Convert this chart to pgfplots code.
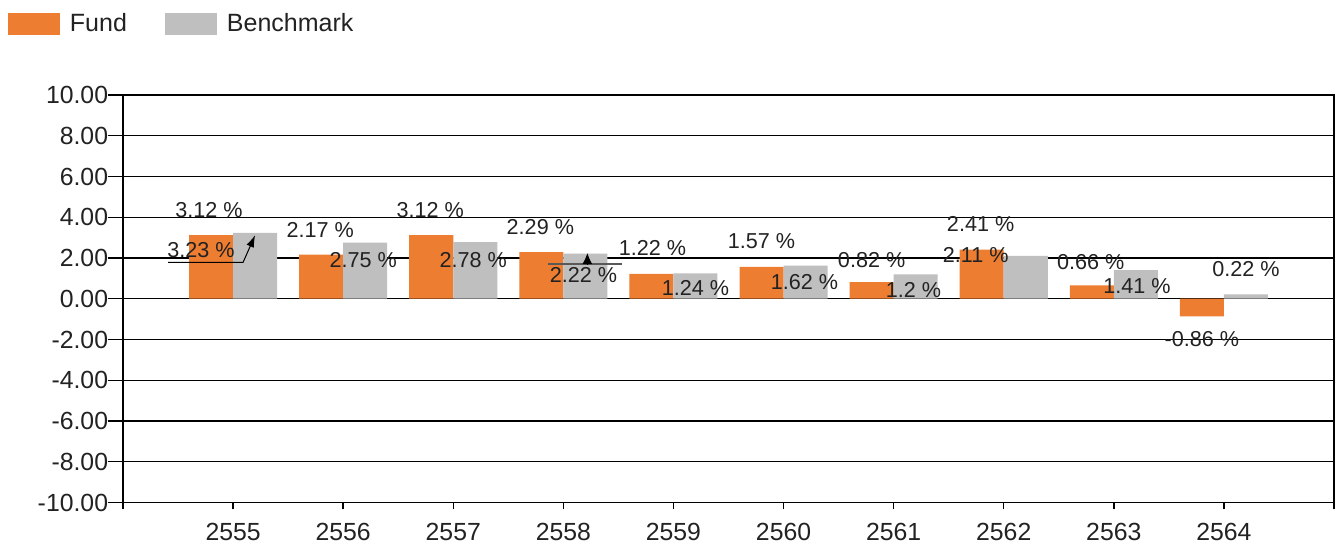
\documentclass[border=0pt]{standalone}
\usepackage{fontspec}
\setmainfont{Liberation Sans}
\usepackage{pgfplots}
\pgfplotsset{compat=1.18}
\usetikzlibrary{arrows.meta,calc}
\definecolor{fundor}{RGB}{237,125,49}
\definecolor{benchgr}{RGB}{191,191,191}
\definecolor{lbl}{RGB}{34,34,34}
\tikzset{lab/.style={font=\fontsize{10.8}{12}\selectfont, text=lbl, inner sep=0pt}}

\begin{document}
\begin{tikzpicture}
\begin{axis}[
  name=ax,
  scale only axis,
  width=605.5pt, height=203.75pt,
  xmin=0, xmax=11,
  ymin=-10, ymax=10,
  xtick={0,...,11},
  xticklabels={,2555,2556,2557,2558,2559,2560,2561,2562,2563,2564,},
  ytick={-10,-8,...,10},
  yticklabels={-10.00,-8.00,-6.00,-4.00,-2.00,0.00,2.00,4.00,6.00,8.00,10.00},
  ymajorgrids=true,
  grid style={black, line width=0.7pt},
  axis line style={black, line width=0.7pt},
  tick align=outside,
  xtick pos=left, ytick pos=left,
  xtick style={black, line width=0.7pt, /pgfplots/major tick length=3.5pt},
  ytick style={black, line width=0.7pt, /pgfplots/major tick length=7.5pt},
  ticklabel style={font=\fontsize{12.4}{14}\selectfont, text=lbl},
  xticklabel style={inner sep=0pt, yshift=-6pt},
  yticklabel style={inner sep=0pt, xshift=-3pt},
  clip=false,
  legend columns=-1,
  legend style={at={(-0.095,1.2015)}, anchor=north west, draw=none, fill=none,
    inner sep=0pt, outer sep=0pt, font=\fontsize{12.5}{14}\selectfont, text=lbl,
    nodes={inner sep=0pt},
    /tikz/every odd column/.style={column sep=5pt},
    /tikz/every even column/.style={column sep=19pt}},
]

% Fund
\addplot[ybar, bar width=0.4, bar shift=-0.2, fill=fundor, draw=none,
  legend image code/.code={\fill[fundor] (0pt,-5.5pt) rectangle (26pt,5.5pt);}]
  coordinates {(1,3.12) (2,2.17) (3,3.12) (4,2.29) (5,1.22) (6,1.57) (7,0.82) (8,2.41) (9,0.66) (10,-0.86)};
\addlegendentry{Fund}

% Benchmark
\addplot[ybar, bar width=0.4, bar shift=0.2, fill=benchgr, draw=none,
  legend image code/.code={\fill[benchgr] (0pt,-5.5pt) rectangle (26pt,5.5pt);}]
  coordinates {(1,3.23) (2,2.75) (3,2.78) (4,2.22) (5,1.24) (6,1.62) (7,1.2) (8,2.11) (9,1.41) (10,0.22)};
\addlegendentry{Benchmark}

% leader lines
\draw[black, line width=0.5pt, -{Latex[length=6pt,width=4pt]}]
  (axis cs:0.409,1.79) -- (axis cs:1.091,1.79) -- (axis cs:1.2,3.12);
\draw[black!65, line width=0.8pt] (axis cs:3.864,1.70) -- (axis cs:4.536,1.70);
\draw[black, line width=0.5pt, -{Latex[length=5.5pt,width=5pt]}]
  (axis cs:4.218,1.70) -- (axis cs:4.218,2.24);

% value labels
\node[lab] at (axis cs:0.782,4.35) {3.12 \%};
\node[lab] at (axis cs:0.709,2.38) {3.23 \%};
\node[lab] at (axis cs:1.791,3.37) {2.17 \%};
\node[lab] at (axis cs:2.182,1.89) {2.75 \%};
\node[lab] at (axis cs:2.791,4.35) {3.12 \%};
\node[lab] at (axis cs:3.182,1.89) {2.78 \%};
\node[lab] at (axis cs:3.791,3.51) {2.29 \%};
\node[lab] at (axis cs:4.182,1.15) {2.22 \%};
\node[lab] at (axis cs:4.809,2.51) {1.22 \%};
\node[lab] at (axis cs:5.20,0.54) {1.24 \%};
\node[lab] at (axis cs:5.80,2.85) {1.57 \%};
\node[lab] at (axis cs:6.19,0.84) {1.62 \%};
\node[lab] at (axis cs:6.80,1.92) {0.82 \%};
\node[lab] at (axis cs:7.18,0.44) {1.2 \%};
\node[lab] at (axis cs:7.79,3.69) {2.41 \%};
\node[lab] at (axis cs:7.745,2.14) {2.11 \%};
\node[lab] at (axis cs:8.79,1.82) {0.66 \%};
\node[lab] at (axis cs:9.21,0.61) {1.41 \%};
\node[lab] at (axis cs:10.20,1.47) {0.22 \%};
\node[lab] at (axis cs:9.80,-1.97) {-0.86 \%};
\end{axis}
\pgfresetboundingbox
\path[use as bounding box] ($(ax.south west)+(-61.5pt,-20.75pt)$) rectangle ($(ax.north east)+(2pt,47.5pt)$);
\end{tikzpicture}
\end{document}
